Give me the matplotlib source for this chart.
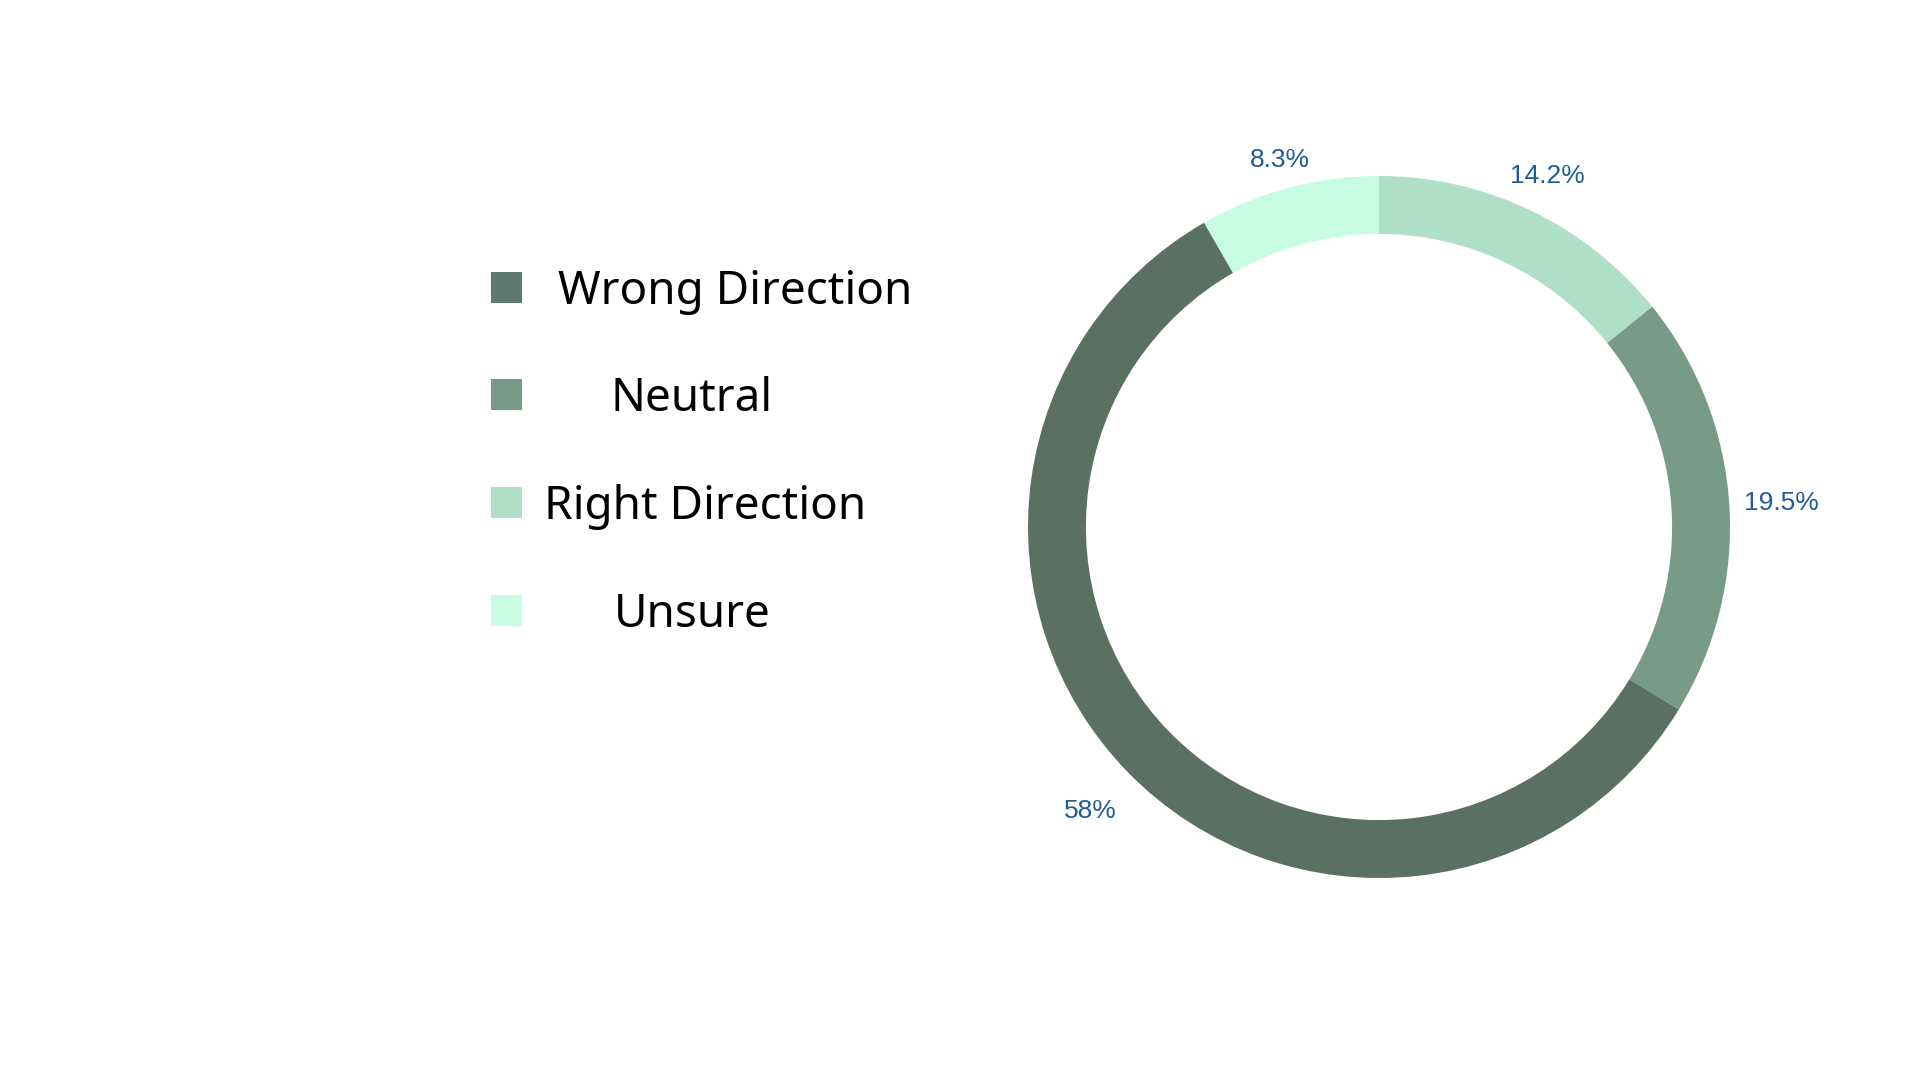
import matplotlib.pyplot as plt
import numpy as np
from matplotlib.patches import Rectangle

# legend order
legend_names = ['Wrong Direction', 'Neutral', 'Right Direction', 'Unsure']
legend_colors = ['#5e7872', '#789a88', '#b0dfc8', '#c7fce3']

# order drawn clockwise from the top of the ring
slice_names = ['Right Direction', 'Neutral', 'Wrong Direction', 'Unsure']
slice_values = [14.2, 19.5, 58, 8.3]
slice_colors = ['#b0dfc8', '#789a88', '#5a7062', '#c7fce3']
label_dist = [1.115, 1.15, 1.15, 1.09]

fig = plt.figure(figsize=(19.2, 10.8), dpi=100)
fig.patch.set_facecolor('white')

# donut axes, centred near (1379, 527) px with radius ~351 px
R_px = 351
span = 1.3
w_px = 2 * span * R_px
cx, cy = 1379, 1080 - 527
ax = fig.add_axes([(cx - w_px / 2) / 1920, (cy - w_px / 2) / 1080, w_px / 1920, w_px / 1080])

wedges, _ = ax.pie(slice_values, colors=slice_colors, startangle=90, counterclock=False,
                   radius=1, wedgeprops=dict(width=0.165, edgecolor='none'))

# percent labels outside the ring
for w, v, d in zip(wedges, slice_values, label_dist):
    mid = np.deg2rad((w.theta1 + w.theta2) / 2)
    ax.text(d * np.cos(mid), d * np.sin(mid), f'{v:g}%', ha='center', va='center_baseline',
            fontsize=19, color='#1f5b99', family='Liberation Sans')

ax.set_xlim(-span, span)
ax.set_ylim(-span, span)
ax.set_aspect('equal')
ax.axis('off')

# legend: squares on the left, centred text
row_y = [287, 394, 502, 610]
text_x = [735, 692, 705, 692]
for name, col, y, tx in zip(legend_names, legend_colors, row_y, text_x):
    fig.patches.append(Rectangle((491 / 1920, (1080 - y - 16) / 1080), 31 / 1920, 31 / 1080,
                                 transform=fig.transFigure, facecolor=col, edgecolor='none'))
    fig.text(tx / 1920, (1080 - y - 17) / 1080, name, ha='center', va='baseline',
             fontsize=33, family='Noto Sans', color='black')

fig.savefig('out.png', dpi=100, facecolor='white')
